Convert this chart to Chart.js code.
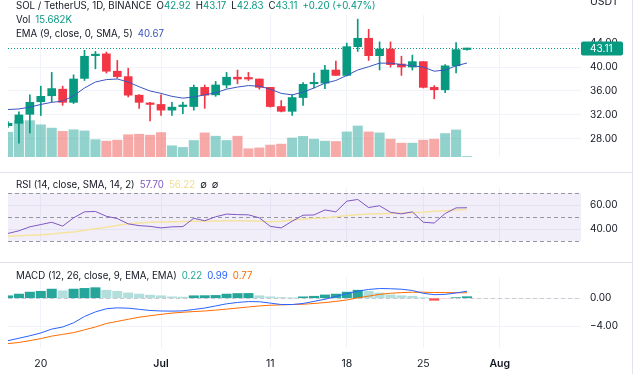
<!DOCTYPE html>
<html>
<head>
<meta charset="utf-8">
<script src="https://cdn.jsdelivr.net/npm/chart.js@4.4.1/dist/chart.umd.min.js"></script>
<style>
  body { margin: 0; width: 640px; height: 374px; overflow: hidden; background: #fff; position: relative;
         font-family: Inter, "Noto Sans", sans-serif; color: #131722; }
  canvas { position: absolute; left: 0; }
  .lg { position: absolute; left: 16px; font-size: 9.7px; line-height: 12px; white-space: nowrap; pointer-events: none; }
  .lg span { margin-left: 5px; }
  .sep { position: absolute; left: 0; width: 632px; height: 1px; background: #e0e3eb; }
  .vline { position: absolute; left: 632px; top: 0; width: 1px; height: 374px; background: #e0e3eb; }
</style>
</head>
<body>
<canvas id="main" width="640" height="172" style="top:0"></canvas>
<canvas id="rsi" width="640" height="90" style="top:172px"></canvas>
<canvas id="macd" width="640" height="112" style="top:262px"></canvas>
<div class="sep" style="top:172px"></div>
<div class="sep" style="top:262px"></div>
<div class="vline"></div>
<div class="lg" style="left:590px; top:-4px; font-size:10.5px">USDT</div>
<div class="lg" id="lg1" style="top:0px"></div>
<div class="lg" id="lg2" style="top:14px"></div>
<div class="lg" id="lg3" style="top:28px"></div>
<div class="lg" id="lg4" style="top:179px"></div>
<div class="lg" id="lg5" style="top:270px"></div>
<script>
// day offsets from 1 Jul (17 Jun .. 29 Jul)
const days = [-14, -13, -12, -11, -10, -9, -8, -7, -6, -5, -4, -3, -2, -1, 0, 1, 2, 3, 4, 5, 6, 7,
  8, 9, 10, 11, 12, 13, 14, 15, 16, 17, 18, 19, 20, 21, 22, 23, 24, 25, 26, 27, 28];
const opens  = [30.2, 30.6, 32.1, 34.2, 35.2, 36.3, 34.1, 38.1, 41.9, 42.2, 39.3, 38.4, 35.3, 34.0, 33.75, 32.8,
  33.4, 33.4, 36.6, 35.35, 37.0, 38.3, 38.1, 38.0, 36.6, 33.4, 32.6, 34.9, 37.2, 37.3, 39.5, 38.6, 43.4, 44.8,
  41.9, 43.0, 40.5, 40.0, 40.9, 36.6, 36.2, 40.2, 42.92];
const highs  = [30.9, 32.5, 35.35, 36.8, 39.1, 36.8, 38.7, 42.8, 42.6, 42.5, 41.1, 39.8, 35.4, 34.1, 35.35, 34.1,
  34.1, 37.0, 37.0, 37.6, 39.1, 39.5, 39.1, 38.0, 36.6, 34.4, 35.35, 37.4, 39.0, 40.3, 41.0, 44.0, 48.0, 46.3,
  44.2, 44.2, 41.8, 42.0, 40.9, 36.9, 40.4, 44.1, 43.17];
const lows   = [29.9, 27.3, 29.0, 31.9, 34.2, 33.6, 33.9, 37.75, 39.7, 39.0, 38.1, 35.0, 33.1, 31.0, 31.9, 31.9,
  32.2, 32.8, 33.1, 35.1, 36.5, 37.2, 37.75, 36.3, 33.3, 32.5, 31.9, 33.6, 36.5, 36.4, 38.6, 38.5, 42.6, 41.1,
  39.5, 40.0, 38.6, 39.5, 36.5, 34.7, 35.7, 39.0, 42.83];
const closes = [30.6, 32.0, 34.1, 35.1, 36.4, 34.1, 38.0, 41.8, 42.0, 39.3, 38.4, 35.3, 34.1, 33.75, 32.8, 33.3,
  33.5, 36.6, 35.3, 37.0, 38.3, 38.0, 38.0, 36.6, 33.4, 32.6, 34.9, 37.1, 37.4, 39.5, 38.6, 43.4, 44.8, 41.9,
  43.0, 40.4, 40.0, 40.9, 36.6, 36.2, 40.2, 42.91, 43.11];
const volumes = [750, 1100, 1100, 975, 875, 775, 825, 790, 525, 480, 510, 675, 690, 660, 740, 340, 290, 500,
  730, 630, 500, 630, 250, 275, 360, 390, 575, 625, 540, 480, 470, 760, 940, 760, 730, 540, 420, 420, 510, 540,
  710, 820, 15.682]; // thousands
const ema = [32.9, 33.0, 33.3, 33.75, 34.1, 34.3, 35.2, 36.5, 37.5, 37.9, 38.0, 37.5, 36.7, 36.0, 35.6, 35.1,
  34.8, 35.0, 35.35, 35.7, 36.3, 36.65, 36.9, 36.8, 36.3, 35.6, 35.35, 35.8, 36.5, 37.3, 37.75, 38.6, 39.5,
  40.05, 40.65, 40.65, 40.4, 40.2, 40.0, 39.3, 39.5, 40.2, 40.67];
const rsi = [36.3, 38.5, 41.8, 43.7, 45.6, 42.4, 49.3, 54.3, 54.6, 50.6, 48.7, 44.3, 42.8, 42.2, 40.9, 41.8,
  42.0, 48.9, 46.9, 50.2, 52.4, 52.0, 51.8, 49.3, 42.2, 40.9, 46.5, 51.5, 51.7, 55.9, 54.3, 63.2, 64.6, 57.9,
  59.4, 53.9, 52.6, 54.3, 45.6, 45.0, 52.9, 57.6, 57.7];
const rsiMa = [33.9, 34.3, 34.8, 35.3, 35.9, 36.8, 37.6, 38.9, 40.2, 41.5, 43.0, 44.3, 45.0, 45.6, 45.8, 46.0,
  46.2, 46.4, 46.5, 46.7, 46.8, 46.9, 46.7, 46.4, 46.1, 46.4, 47.4, 48.2, 49.0, 49.2, 50.2, 51.2, 51.9, 52.5,
  52.8, 53.0, 53.3, 53.6, 54.0, 54.7, 55.3, 55.9, 56.22];
const macd = [-6.04, -5.7, -5.35, -4.95, -4.4, -4.1, -3.5, -2.6, -1.95, -1.5, -1.37, -1.42, -1.58, -1.75, -1.82,
  -1.84, -1.8, -1.6, -1.4, -1.1, -0.8, -0.6, -0.48, -0.5, -0.7, -0.9, -0.9, -0.75, -0.45, -0.15, 0.25, 0.65,
  1.0, 1.25, 1.38, 1.35, 1.28, 1.1, 0.7, 0.5, 0.55, 0.75, 0.99];
const signal = [-6.47, -6.3, -6.04, -5.75, -5.4, -5.15, -4.9, -4.5, -4.1, -3.6, -3.3, -3.0, -2.7, -2.5, -2.3,
  -2.12, -2.0, -1.9, -1.82, -1.7, -1.55, -1.4, -1.25, -1.1, -1.0, -0.95, -0.9, -0.86, -0.75, -0.62, -0.45,
  -0.25, 0.05, 0.3, 0.55, 0.7, 0.8, 0.85, 0.85, 0.82, 0.8, 0.78, 0.77];
const hist = [0.35, 0.59, 0.87, 0.99, 1.3, 1.05, 1.3, 1.4, 1.5, 1.14, 0.99, 0.75, 0.59, 0.44, 0.35, 0.2, 0.16,
  0.35, 0.37, 0.4, 0.59, 0.67, 0.68, 0.35, 0.2, 0.1, 0.06, 0.2, 0.28, 0.47, 0.59, 0.87, 1.14, 0.99, 0.75, 0.47,
  0.35, 0.28, 0.08, -0.3, -0.05, 0.08, 0.22];
const gridDays = [-11, 0, 10, 17, 24, 31];
const gridLabels = ['20', 'Jul', '11', '18', '25', 'Aug'];

const X_MIN = -14, X_MAX = 38.43;
const UP = '#089981', DOWN = '#f23645';
const GRID = '#f0f3fa', TEXT = '#131722', FONT = 'Inter, "Noto Sans", sans-serif';
const n = days.length - 1;

const pts = arr => days.map((d, i) => ({ x: d, y: arr[i] }));
const isUp = i => closes[i] >= opens[i];

function xAxis(labels) {
  return {
    type: 'linear', min: X_MIN, max: X_MAX, offset: false,
    afterBuildTicks: s => { s.ticks = gridDays.map(v => ({ value: v })); },
    grid: { color: GRID, drawTicks: false, offset: false },
    border: { display: false },
    ticks: {
      display: labels, autoSkip: false, maxRotation: 0, padding: 10, color: TEXT,
      font: c => ({ family: FONT, size: 10.5,
        weight: c.tick && /[A-Za-z]/.test(gridLabels[gridDays.indexOf(c.tick.value)]) ? '600' : '400' }),
      callback: v => gridLabels[gridDays.indexOf(v)]
    },
    afterFit: s => { s.height = labels ? 26 : 0; }
  };
}

function yAxis(min, max, ticks) {
  return {
    position: 'right', min, max,
    afterBuildTicks: s => { s.ticks = ticks.map(v => ({ value: v })); },
    grid: { color: GRID, drawTicks: false },
    border: { display: false },
    ticks: { color: TEXT, font: { family: FONT, size: 10 }, padding: 9,
      callback: v => (v < 0 ? '\u2212' : '') + Math.abs(v).toFixed(2) },
    afterFit: s => { s.width = 51; }
  };
}

const common = {
  responsive: false, animation: false, events: [],
  layout: { padding: { left: 8, right: 8, top: 0, bottom: 0 } },
  plugins: { legend: { display: false }, tooltip: { enabled: false } }
};

const lastPrice = {
  id: 'lastPrice',
  beforeDatasetsDraw(chart) {
    const { ctx, chartArea: a, scales: { y } } = chart;
    const py = Math.round(y.getPixelForValue(closes[n])) + 0.5;
    ctx.save();
    ctx.strokeStyle = UP; ctx.lineWidth = 1; ctx.setLineDash([1, 2]);
    ctx.beginPath(); ctx.moveTo(a.left, py); ctx.lineTo(a.right, py); ctx.stroke();
    ctx.restore();
  },
  afterDraw(chart) {
    const { ctx, chartArea: a, scales: { y } } = chart;
    const py = y.getPixelForValue(closes[n]);
    ctx.save();
    ctx.fillStyle = UP;
    ctx.beginPath(); ctx.roundRect(a.right, py - 7, 42, 14, 2); ctx.fill();
    ctx.fillStyle = '#fff'; ctx.font = '10px ' + FONT; ctx.textBaseline = 'middle';
    ctx.fillText(closes[n].toFixed(2), a.right + 9, py + 0.5);
    ctx.restore();
  }
};

new Chart(document.getElementById('main'), {
  type: 'bar',
  data: {
    datasets: [
      { type: 'line', data: pts(ema), borderColor: '#3a55c0', borderWidth: 1, pointRadius: 0, order: 1 },
      { data: days.map((d, i) => ({ x: d, y: [opens[i], closes[i]] })), grouped: false, barThickness: 8,
        minBarLength: 1.5, backgroundColor: days.map((d, i) => isUp(i) ? UP : DOWN), order: 2 },
      { data: days.map((d, i) => ({ x: d, y: [lows[i], highs[i]] })), grouped: false, barThickness: 1,
        backgroundColor: days.map((d, i) => isUp(i) ? UP : DOWN), order: 3 },
      { data: pts(volumes), yAxisID: 'yv', grouped: false, barThickness: 9.4,
        backgroundColor: days.map((d, i) => isUp(i) ? 'rgba(38,166,154,0.5)' : 'rgba(239,83,80,0.5)'), order: 4 }
    ]
  },
  options: {
    ...common,
    scales: {
      x: xAxis(false),
      y: yAxis(24.97, 48.69, [28, 32, 36, 40, 44]),
      yv: { display: false, min: 0, max: 4300 }
    }
  },
  plugins: [lastPrice]
});

const rsiBand = {
  id: 'rsiBand',
  beforeDatasetsDraw(chart) {
    const { ctx, chartArea: a, scales: { y } } = chart;
    const top = y.getPixelForValue(70), bot = y.getPixelForValue(30);
    ctx.save();
    ctx.fillStyle = 'rgba(126,87,194,0.1)';
    ctx.fillRect(a.left, top, a.right - a.left, bot - top);
    ctx.strokeStyle = '#9598a1'; ctx.lineWidth = 1; ctx.setLineDash([4, 3]);
    [70, 50, 30].forEach(v => {
      const py = Math.round(y.getPixelForValue(v)) + 0.5;
      ctx.beginPath(); ctx.moveTo(a.left, py); ctx.lineTo(a.right, py); ctx.stroke();
    });
    ctx.restore();
  }
};

new Chart(document.getElementById('rsi'), {
  type: 'line',
  data: {
    datasets: [
      { data: pts(rsi), borderColor: '#7e57c2', borderWidth: 1, pointRadius: 0, order: 1 },
      { data: pts(rsiMa), borderColor: '#f5e3a0', borderWidth: 1.5, pointRadius: 0, order: 2 }
    ]
  },
  options: { ...common, scales: { x: xAxis(false), y: yAxis(25, 75, [40, 60]) } },
  plugins: [rsiBand]
});

const zeroLine = {
  id: 'zeroLine',
  beforeDatasetsDraw(chart) {
    const { ctx, chartArea: a, scales: { y } } = chart;
    const py = Math.round(y.getPixelForValue(0)) + 0.5;
    ctx.save();
    ctx.strokeStyle = '#c9cbd1'; ctx.lineWidth = 1; ctx.setLineDash([4, 3]);
    ctx.beginPath(); ctx.moveTo(a.left, py); ctx.lineTo(a.right, py); ctx.stroke();
    ctx.restore();
  }
};

function histColor(i) {
  const v = hist[i], p = i > 0 ? hist[i - 1] : v;
  if (v >= 0) return v >= p ? '#26a69a' : '#b2dfdb';
  return v < p ? '#ff5252' : '#ffcdd2';
}

new Chart(document.getElementById('macd'), {
  type: 'bar',
  data: {
    datasets: [
      { type: 'line', data: pts(macd), borderColor: '#2962ff', borderWidth: 1, pointRadius: 0, order: 1 },
      { type: 'line', data: pts(signal), borderColor: '#ff6d00', borderWidth: 1, pointRadius: 0, order: 2 },
      { data: pts(hist), barThickness: 9.4, grouped: false,
        backgroundColor: days.map((d, i) => histColor(i)), order: 3 }
    ]
  },
  options: { ...common, scales: { x: xAxis(true), y: yAxis(-7.09, 3.02, [0, -4]) } },
  plugins: [zeroLine]
});

// legends
const f2 = v => v.toFixed(2);
const chg = closes[n] - closes[n - 1];
const c = (col, t) => `<span style="color:${col};margin-left:0">${t}</span>`;
document.getElementById('lg1').innerHTML =
  `SOL / TetherUS, 1D, BINANCE<span>O${c(UP, f2(opens[n]))}</span><span>H${c(UP, f2(highs[n]))}</span>` +
  `<span>L${c(UP, f2(lows[n]))}</span><span>C${c(UP, f2(closes[n]))}</span>` +
  `<span style="color:${UP}">+${f2(chg)} (+${f2(chg / closes[n - 1] * 100)}%)</span>`;
document.getElementById('lg2').innerHTML = `Vol<span style="color:${UP}">${volumes[n].toFixed(3)}K</span>`;
document.getElementById('lg3').innerHTML = `EMA (9, close, 0, SMA, 5)<span style="color:#3a55c0">${f2(ema[n])}</span>`;
document.getElementById('lg4').innerHTML =
  `RSI (14, close, SMA, 14, 2)<span style="color:#7e57c2">${f2(rsi[n])}</span>` +
  `<span style="color:#f2dc8c">${f2(rsiMa[n])}</span><span>\u2205</span><span>\u2205</span>`;
document.getElementById('lg5').innerHTML =
  `MACD (12, 26, close, 9, EMA, EMA)<span style="color:#26a69a">${f2(hist[n])}</span>` +
  `<span style="color:#2962ff">${f2(macd[n])}</span><span style="color:#ff6d00">${f2(signal[n])}</span>`;
</script>
</body>
</html>
